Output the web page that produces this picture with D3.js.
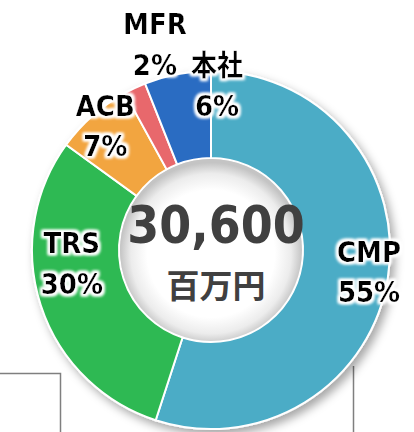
<!DOCTYPE html>
<html lang="ja">
<head>
<meta charset="UTF-8">
<title>売上構成</title>
<script src="https://d3js.org/d3.v7.min.js"></script>
<style>
  body { margin: 0; background: #ffffff; }
  #chart svg { display: block; }
</style>
</head>
<body>
<div id="chart"></div>
<script>
// data
var categories = ["CMP", "TRS", "ACB", "MFR", "本社"];
var shares = [55, 30, 7, 2, 6];
var colors = ["#4bacc6", "#2eb952", "#f2a53f", "#e8686c", "#2a6cc2"];
var totalText = "30,600";
var unitText = "百万円";

// label nudges (px) from the arc centroid
var labelNudge = {
    "CMP": [0, -4],
    "TRS": [13, -37],
    "ACB": [0, -5],
    "MFR": [12, -62],
    "本社": [36, -8]
};

var width = 414, height = 432;
var cx = 211, cy = 250, outerR = 179, innerR = 92;
var fontLatin = "'DejaVu Sans', 'Noto Sans CJK JP', sans-serif";

var svg = d3.select("#chart")
    .append("svg")
        .attr("width", width)
        .attr("height", height);

var defs = svg.append("defs");

var shadow = defs.append("filter")
    .attr("id", "shadow")
    .attr("x", "-20%").attr("y", "-20%")
    .attr("width", "140%").attr("height", "140%");
shadow.append("feDropShadow")
    .attr("dx", 4).attr("dy", 5)
    .attr("stdDeviation", 5)
    .attr("flood-color", "#000")
    .attr("flood-opacity", 0.35);

var hole = defs.append("radialGradient")
    .attr("id", "hole")
    .attr("cx", "50%").attr("cy", "52%").attr("r", "50%");
hole.append("stop").attr("offset", "0.7").attr("stop-color", "#ffffff");
hole.append("stop").attr("offset", "0.88").attr("stop-color", "#ececec");
hole.append("stop").attr("offset", "1").attr("stop-color", "#c4c4c4");

var halo = defs.append("filter").attr("id", "halo");
halo.append("feMorphology").attr("in", "SourceAlpha").attr("operator", "dilate").attr("radius", 2).attr("result", "d");
halo.append("feGaussianBlur").attr("in", "d").attr("stdDeviation", 1.5).attr("result", "b");
halo.append("feFlood").attr("flood-color", "#ffffff");
halo.append("feComposite").attr("in2", "b").attr("operator", "in").attr("result", "w");
var hm = halo.append("feMerge");
hm.append("feMergeNode").attr("in", "w");
hm.append("feMergeNode").attr("in", "w");
hm.append("feMergeNode").attr("in", "SourceGraphic");

// frame lines behind the chart
var frame = svg.append("g")
    .attr("fill", "none")
    .attr("stroke", "#7f7f7f")
    .attr("stroke-width", 1.5);
frame.append("path").attr("d", "M0,373.5H60.5V432");
frame.append("path").attr("d", "M353.5,366V432");

var g = svg.append("g")
    .attr("transform", "translate(" + cx + "," + cy + ")");

var pie = d3.pie()
    .sort(null)
    .value(function(d) { return d.value; });

var data = categories.map(function(c, i) {
    return {name: c, value: shares[i], color: colors[i]};
});
var arcs = pie(data);

var arc = d3.arc()
    .innerRadius(innerR)
    .outerRadius(outerR);

var labelArc = d3.arc()
    .innerRadius(160)
    .outerRadius(160);

// ring with shadow
var ring = g.append("g").attr("filter", "url(#shadow)");
ring.selectAll("path")
    .data(arcs)
    .enter()
    .append("path")
        .attr("d", arc)
        .attr("fill", function(d) { return d.data.color; })
        .attr("stroke", "#ffffff")
        .attr("stroke-width", 2);

// hole
g.append("circle")
    .attr("r", innerR - 1)
    .attr("fill", "url(#hole)");

// slice labels (a bit taller than DejaVu, like the original font)
var labels = g.selectAll(".lbl")
    .data(arcs)
    .enter()
    .append("text")
        .attr("class", "lbl")
        .attr("transform", function(d) {
            var c = labelArc.centroid(d);
            var n = labelNudge[d.data.name];
            return "translate(" + (c[0] + n[0]) + "," + (c[1] + n[1]) + ") scale(1,1.12)";
        })
        .attr("text-anchor", "middle")
        .attr("filter", "url(#halo)")
        .style("font-family", fontLatin)
        .style("font-weight", "bold")
        .style("font-size", "26px")
        .style("fill", "#000000");

labels.append("tspan")
    .attr("x", 0)
    .attr("y", -8)
    .text(function(d) { return d.data.name; });
labels.append("tspan")
    .attr("x", 0)
    .attr("y", 28)
    .text(function(d) { return d.data.value + "%"; });

// center total
g.append("text")
    .attr("transform", "translate(5,-7) scale(1,1.12)")
    .attr("text-anchor", "middle")
    .style("font-family", fontLatin)
    .style("font-weight", "bold")
    .style("font-size", "46px")
    .style("fill", "#404040")
    .text(totalText);

g.append("text")
    .attr("x", 5)
    .attr("y", 48)
    .attr("text-anchor", "middle")
    .style("font-family", "'Noto Sans CJK JP', sans-serif")
    .style("font-weight", "bold")
    .style("font-size", "33px")
    .style("fill", "#404040")
    .text(unitText);
</script>
</body>
</html>
